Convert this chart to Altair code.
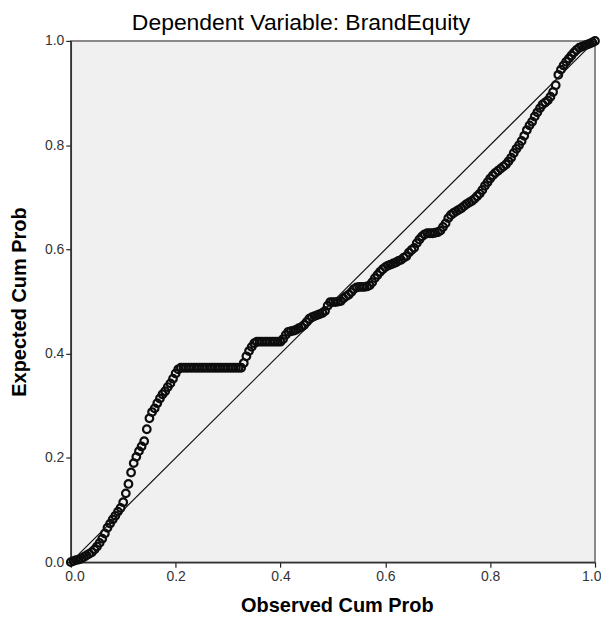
import altair as alt
import pandas as pd

observed = [
    0.000, 0.005, 0.010, 0.015, 0.020, 0.025, 0.030, 0.035, 0.040, 0.045,
    0.050, 0.055, 0.060, 0.065, 0.070, 0.075, 0.080, 0.085, 0.090, 0.095,
    0.100, 0.105, 0.110, 0.115, 0.120, 0.125, 0.130, 0.135, 0.140, 0.145,
    0.150, 0.155, 0.160, 0.165, 0.170, 0.175, 0.180, 0.185, 0.190, 0.195,
    0.200, 0.205, 0.210, 0.215, 0.220, 0.225, 0.230, 0.235, 0.240, 0.245,
    0.250, 0.255, 0.260, 0.265, 0.270, 0.275, 0.280, 0.285, 0.290, 0.295,
    0.300, 0.305, 0.310, 0.315, 0.320, 0.325, 0.330, 0.335, 0.340, 0.345,
    0.350, 0.355, 0.360, 0.365, 0.370, 0.375, 0.380, 0.385, 0.390, 0.395,
    0.400, 0.405, 0.410, 0.415, 0.420, 0.425, 0.430, 0.435, 0.440, 0.445,
    0.450, 0.455, 0.460, 0.465, 0.470, 0.475, 0.480, 0.485, 0.490, 0.495,
    0.500, 0.505, 0.510, 0.515, 0.520, 0.525, 0.530, 0.535, 0.540, 0.545,
    0.550, 0.555, 0.560, 0.565, 0.570, 0.575, 0.580, 0.585, 0.590, 0.595,
    0.600, 0.605, 0.610, 0.615, 0.620, 0.625, 0.630, 0.635, 0.640, 0.645,
    0.650, 0.655, 0.660, 0.665, 0.670, 0.675, 0.680, 0.685, 0.690, 0.695,
    0.700, 0.705, 0.710, 0.715, 0.720, 0.725, 0.730, 0.735, 0.740, 0.745,
    0.750, 0.755, 0.760, 0.765, 0.770, 0.775, 0.780, 0.785, 0.790, 0.795,
    0.800, 0.805, 0.810, 0.815, 0.820, 0.825, 0.830, 0.835, 0.840, 0.845,
    0.850, 0.855, 0.860, 0.865, 0.870, 0.875, 0.880, 0.885, 0.890, 0.895,
    0.900, 0.905, 0.910, 0.915, 0.920, 0.925, 0.930, 0.935, 0.940, 0.945,
    0.950, 0.955, 0.960, 0.965, 0.970, 0.975, 0.980, 0.985, 0.990, 0.995,
    1.000,
]

expected = [
    0.000, 0.002, 0.004, 0.005, 0.007, 0.010, 0.013, 0.016, 0.019, 0.024,
    0.030, 0.037, 0.045, 0.055, 0.066, 0.074, 0.082, 0.089, 0.097, 0.104,
    0.115,
    0.132, 0.150, 0.172, 0.190, 0.202, 0.213, 0.222, 0.232, 0.255, 0.276,
    0.288, 0.295, 0.305, 0.314, 0.322, 0.328, 0.336, 0.343, 0.352, 0.362,
    0.370,
    0.373, 0.373, 0.373, 0.373, 0.373, 0.373, 0.373, 0.373, 0.373, 0.373,
    0.373, 0.373, 0.373, 0.373, 0.373, 0.373, 0.373, 0.373, 0.373, 0.373,
    0.373, 0.373, 0.373, 0.373,
    0.382, 0.395, 0.405, 0.413, 0.420, 0.423,
    0.423, 0.423, 0.423, 0.423, 0.423, 0.423, 0.423, 0.423, 0.423,
    0.428, 0.436, 0.442, 0.443, 0.444, 0.446, 0.449, 0.451, 0.455, 0.461,
    0.467, 0.470, 0.472, 0.474, 0.476, 0.478, 0.482, 0.492, 0.499, 0.499,
    0.499, 0.500, 0.501, 0.506, 0.510, 0.513, 0.518, 0.524, 0.527, 0.528,
    0.528, 0.528, 0.529, 0.531, 0.537, 0.545, 0.551, 0.557, 0.562, 0.566,
    0.569, 0.571, 0.573, 0.575, 0.578, 0.580, 0.584, 0.587, 0.594, 0.599,
    0.603, 0.612, 0.619, 0.625, 0.629, 0.631, 0.631, 0.631, 0.632, 0.633,
    0.636, 0.643, 0.650, 0.660, 0.666, 0.670, 0.673, 0.676, 0.679, 0.683,
    0.687, 0.690, 0.693, 0.697, 0.702, 0.707, 0.714, 0.722, 0.729, 0.736,
    0.742, 0.747, 0.751, 0.755, 0.759, 0.763, 0.769, 0.776, 0.785, 0.793,
    0.800, 0.808, 0.818, 0.829, 0.838, 0.845, 0.855, 0.863, 0.871, 0.878,
    0.882, 0.886, 0.893, 0.902, 0.915, 0.935, 0.945, 0.953, 0.960, 0.966,
    0.972, 0.978, 0.983, 0.987, 0.989, 0.991, 0.993, 0.995, 0.997, 1.000,
]

diagonal = [0.0, 1.0]
tick_values = [0.0, 0.2, 0.4, 0.6, 0.8, 1.0]

pts = pd.DataFrame({"obs": observed, "exp": expected})
diag_df = pd.DataFrame({"obs": diagonal, "exp": diagonal})

FONT = "Liberation Sans"
W, H = 526, 523

xscale = alt.Scale(domain=[0, 1], nice=False, zero=False)
yscale = alt.Scale(domain=[0, 1], nice=False, zero=False)

x_enc = alt.X(
    "obs:Q", scale=xscale,
    axis=alt.Axis(
        title="Observed Cum Prob", values=tick_values, format=".1f",
        grid=False, labelFlush=True, labelFlushOffset=6,
        titleX=W / 2 + 4, titleY=44,
        titleBaseline="middle", titleAnchor="middle",
    ),
)
y_enc = alt.Y(
    "exp:Q", scale=yscale,
    axis=alt.Axis(
        title="Expected Cum Prob", values=tick_values, format=".1f",
        grid=False, labelFlush=False, titleX=-51, titleY=H / 2,
        titleAngle=270, titleBaseline="middle", titleAnchor="middle",
    ),
)

points = alt.Chart(pts).mark_point(
    shape="circle", filled=False, size=58, stroke="#0d0d0d", strokeWidth=2.2,
    opacity=1,
).encode(x=x_enc, y=y_enc)

line = alt.Chart(diag_df).mark_line(color="#111111", strokeWidth=1.2).encode(
    x=alt.X("obs:Q", scale=xscale), y=alt.Y("exp:Q", scale=yscale)
)

chart = (
    alt.layer(points, line)
    .properties(
        width=W, height=H,
        title=alt.TitleParams(
            "Dependent Variable: BrandEquity", font=FONT, fontSize=23,
            fontWeight="normal", color="#000000", anchor="middle", dx=-32,
            dy=8, offset=6,
        ),
        autosize=alt.AutoSizeParams(type="none"),
        padding={"left": 63, "top": 32, "right": 6, "bottom": 56},
        background="white",
    )
    .configure_view(fill="#F0F0F0", stroke="#666666", strokeWidth=1.5)
    .configure_axis(
        labelFont=FONT, labelFontSize=14, labelColor="#333333",
        titleFont=FONT, titleFontSize=20, titleFontWeight="bold",
        titleColor="#000000", tickSize=5, tickColor="#222222",
        tickWidth=1.2, domainColor="#333333", domainWidth=1.5,
        labelPadding=2,
    )
)

chart.save("out.html", embed_options={"renderer": "svg", "actions": False})
